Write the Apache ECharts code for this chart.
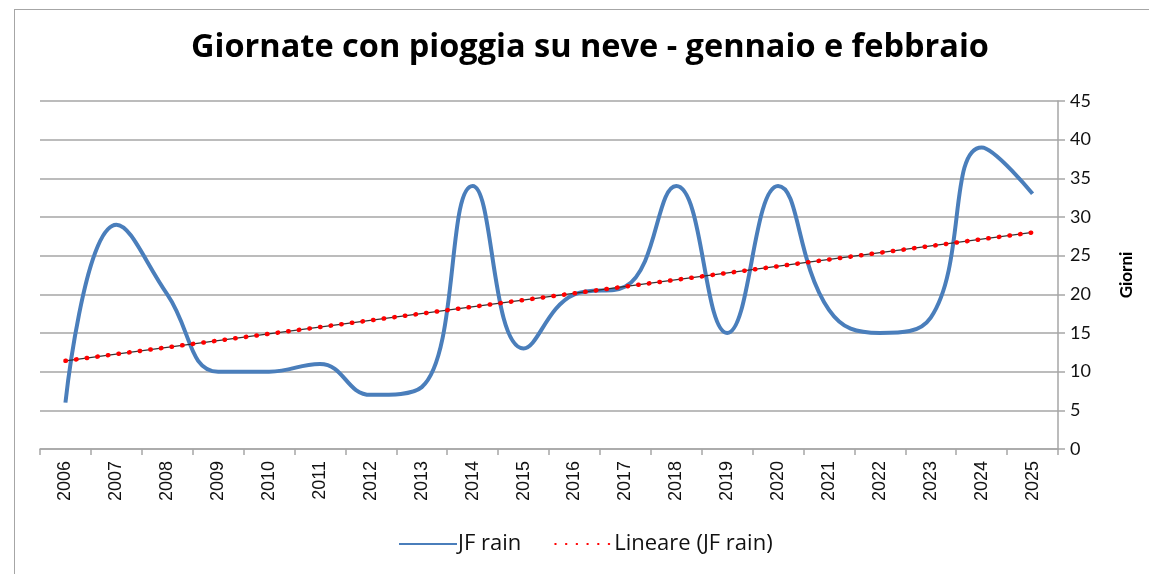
<!DOCTYPE html>
<html>
<head>
<meta charset="utf-8">
<script src="https://cdn.jsdelivr.net/npm/echarts@6/dist/echarts.min.js"></script>
<style>
  html, body { margin: 0; padding: 0; background: #fff; }
  #chart { width: 1149px; height: 574px; }
  #frame { position: absolute; left: 14px; top: 9px; width: 1200px; height: 700px;
    border-top: 1.5px solid #a6a6a6; border-left: 1.5px solid #a6a6a6; pointer-events: none; }
</style>
</head>
<body>
<div id="frame"></div>
<div id="chart"></div>
<script>
  // anni (categorie)
  const years = ['2006', '2007', '2008', '2009', '2010', '2011', '2012', '2013', '2014', '2015',
    '2016', '2017', '2018', '2019', '2020', '2021', '2022', '2023', '2024', '2025']
  // giornate con pioggia su neve, gennaio + febbraio
  const jfRain = [6, 29, 20, 10, 10, 11, 7, 8, 34, 13, 20, 21, 34, 15, 34, 18, 15, 17, 39, 33]
  // linea di tendenza: solo estremi
  const trend = [11.4, null, null, null, null, null, null, null, null, null,
    null, null, null, null, null, null, null, null, null, 28.0]
  const yTicks = { min: 0, max: 45, step: 5 }

  const gray = '#a6a6a6'
  const chart = echarts.init(document.getElementById('chart'))
  chart.setOption({
    animation: false,
    title: {
      text: 'Giornate con pioggia su neve - gennaio e febbraio',
      left: 191,
      top: 31,
      padding: 0,
      textStyle: { fontFamily: 'Open Sans', fontWeight: 'bold', fontSize: 32.5, color: '#000' }
    },
    legend: {
      data: ['JF rain', 'Lineare (JF rain)'],
      left: 398,
      top: 533,
      padding: 0,
      itemWidth: 58,
      itemHeight: 20,
      itemGap: 33,
      itemStyle: { opacity: 0 },
      textStyle: { fontFamily: 'Open Sans', fontSize: 22, color: '#111', padding: [0, 0, 0, -4] }
    },
    grid: { left: 40, right: 91, top: 101, bottom: 125 },
    xAxis: {
      type: 'category',
      data: years,
      boundaryGap: true,
      axisLine: { lineStyle: { color: gray, width: 1.5 } },
      axisTick: { show: true, length: 6, lineStyle: { color: gray, width: 1.5 } },
      axisLabel: { rotate: 90, margin: 12, fontFamily: 'Liberation Sans', fontSize: 18, color: '#111' },
      splitLine: { show: false }
    },
    yAxis: {
      type: 'value',
      position: 'right',
      min: yTicks.min,
      max: yTicks.max,
      interval: yTicks.step,
      name: 'Giorni',
      nameLocation: 'middle',
      nameRotate: 90,
      nameGap: 60,
      nameTextStyle: { fontFamily: 'Lato', fontWeight: 'bold', fontSize: 17, color: '#000' },
      axisLine: { show: true, lineStyle: { color: gray, width: 1.5 } },
      axisTick: { show: true, length: 7, lineStyle: { color: gray, width: 1.5 } },
      axisLabel: { margin: 12, fontFamily: 'Lato', fontSize: 18, color: '#111' },
      splitLine: { lineStyle: { color: gray, width: 1.5 } }
    },
    series: [
      {
        name: 'JF rain',
        type: 'line',
        data: jfRain,
        smooth: 0.45,
        symbol: 'none',
        color: '#4a7ebb',
        lineStyle: { width: 4, color: '#4a7ebb' }
      },
      {
        name: 'trend-core',
        type: 'line',
        data: trend,
        connectNulls: true,
        symbol: 'none',
        silent: true,
        lineStyle: { width: 1.2, color: '#333' }
      },
      {
        name: 'Lineare (JF rain)',
        type: 'line',
        data: trend,
        connectNulls: true,
        symbol: 'none',
        color: '#ff0000',
        lineStyle: { width: 4.5, color: '#ff0000', type: [0.5, 10.2], cap: 'round' }
      }
    ]
  })
</script>
</body>
</html>
